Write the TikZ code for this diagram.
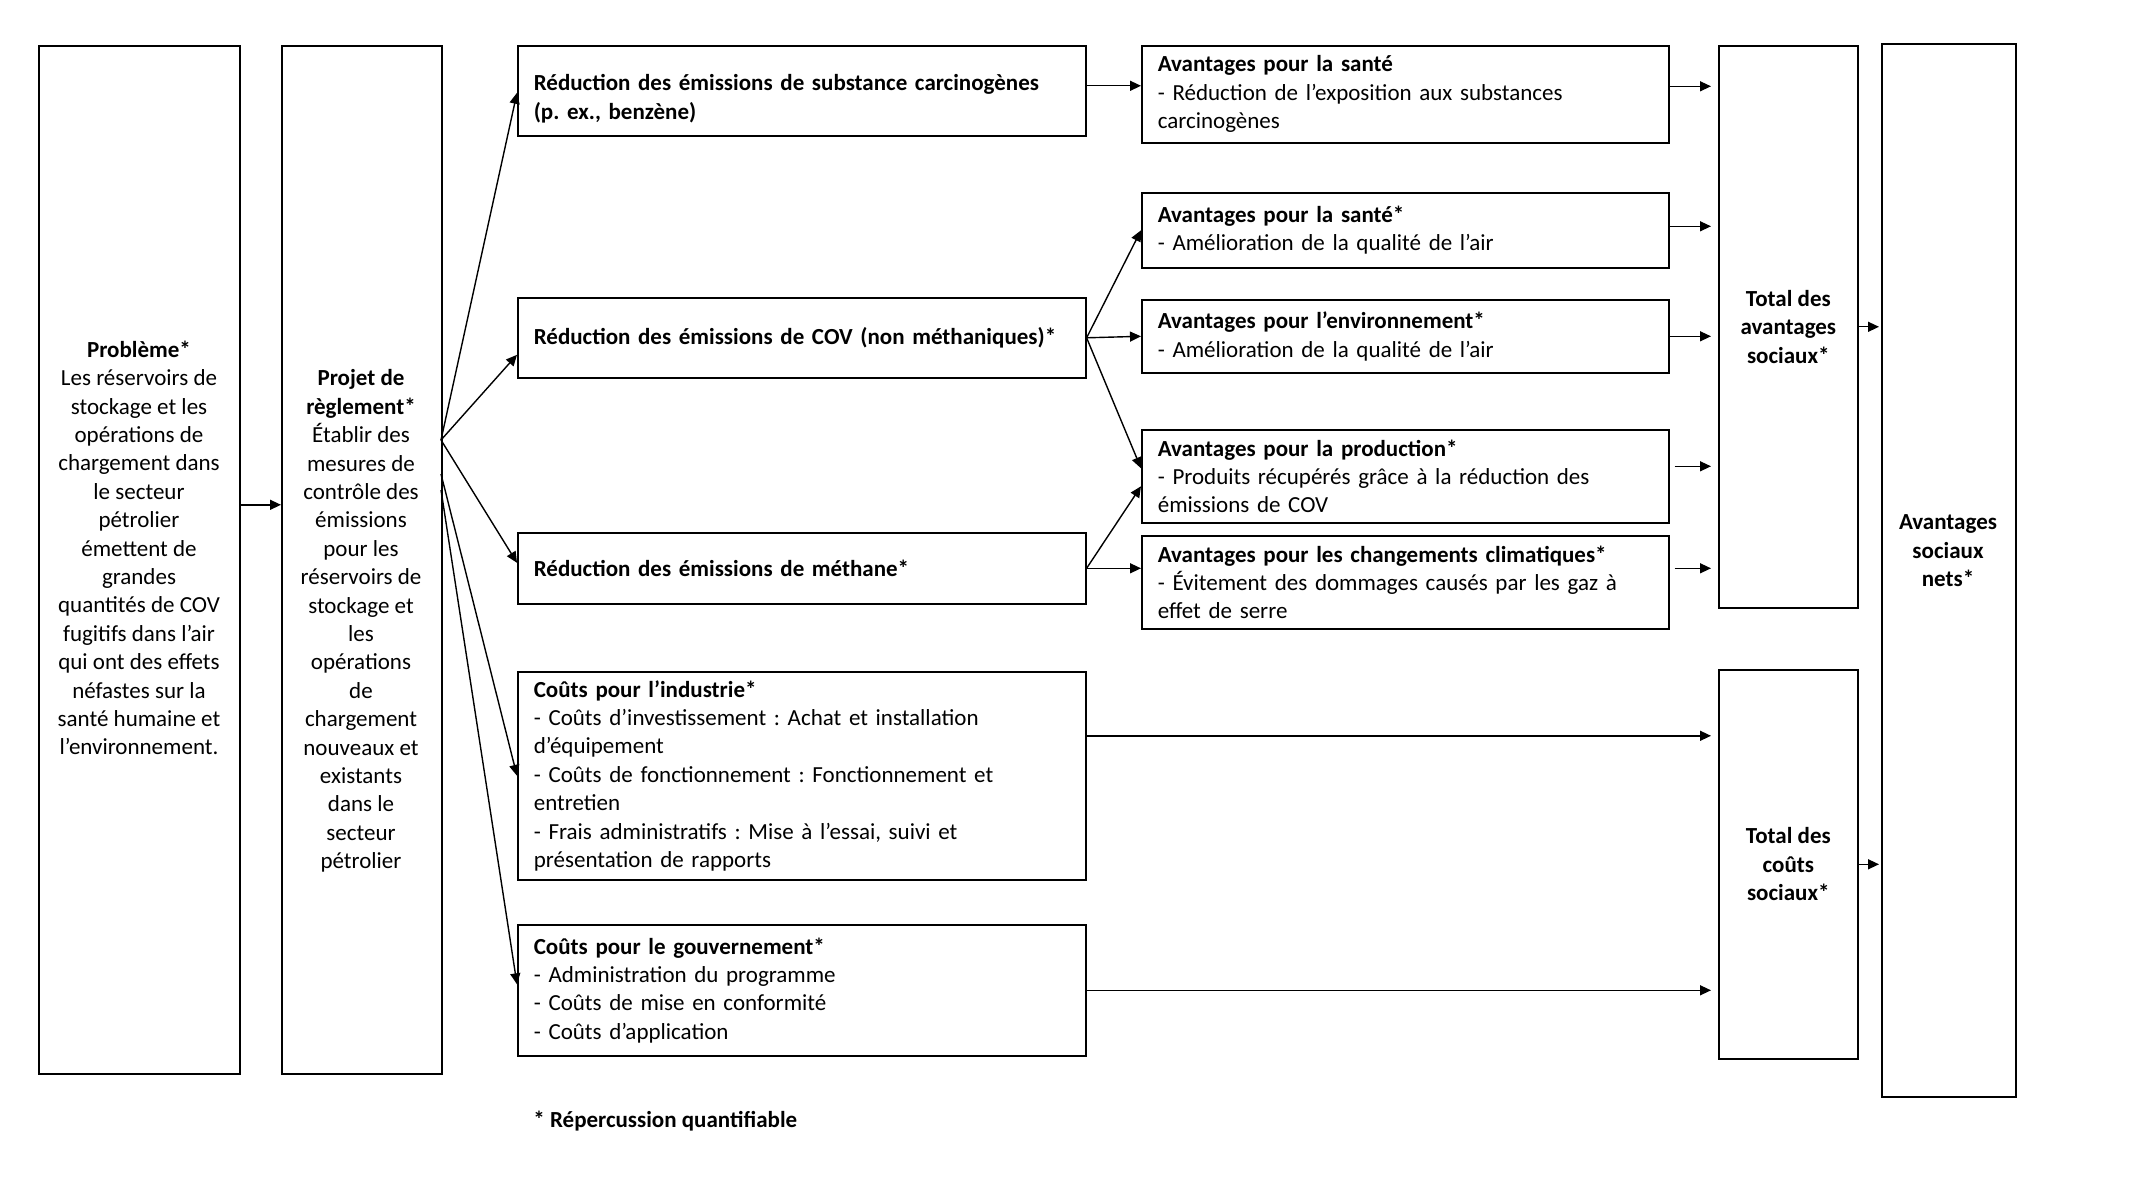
\documentclass[tikz,border=0pt]{standalone}
\usepackage{fontspec}
\setmainfont{Carlito}
\usetikzlibrary{arrows.meta,calc,positioning}
\frenchspacing

\tikzset{
  box/.style={draw, line width=0.8pt, anchor=north west, inner sep=0pt},
  lbox/.style={box, align=left, inner xsep=8pt, text width=#1},
  cbox/.style={box, align=center},
  txt/.style={align=center, inner sep=0pt},
  arr/.style={line width=0.7pt, -{Triangle[length=5.5pt,width=5pt]}},
}

\begin{document}
\begin{tikzpicture}[x=0.5pt, y=-0.5pt, font=\fontsize{11.5}{14.2}\selectfont]
\useasboundingbox (0,0) rectangle (2150,1203);

% left column
\node[box, minimum width=100.5pt, minimum height=514pt] (prob) at (38,45) {};
\node[txt] (probtxt) at (139,548) {\textbf{Problème*}\\Les réservoirs de\\stockage et les\\opérations de\\chargement dans\\le secteur\\pétrolier\\émettent de\\grandes\\quantités de COV\\fugitifs dans l’air\\qui ont des effets\\néfastes sur la\\santé humaine et\\l’environnement.};
\node[box, minimum width=80pt, minimum height=514pt] (projet) at (281,45) {};
\node[txt] (projettxt) at (361,621) {\textbf{Projet de}\\\textbf{règlement*}\\Établir des\\mesures de\\contrôle des\\émissions\\pour les\\réservoirs de\\stockage et\\les\\opérations\\de\\chargement\\nouveaux et\\existants\\dans le\\secteur\\pétrolier};

% reductions and costs
\node[lbox=268pt, minimum height=45pt] (red1) at (517,45) {\rule{0pt}{16pt}\textbf{Réduction des émissions de substance carcinogènes}\\\textbf{(p. ex., benzène)}};
\node[lbox=268pt, minimum height=40pt] (red2) at (517,297) {\textbf{Réduction des émissions de COV (non méthaniques)*}};
\node[lbox=268pt, minimum height=35.5pt] (red3) at (517,532) {\textbf{Réduction des émissions de méthane*}};
\node[lbox=268pt, minimum height=104pt] (ind) at (517,671) {\textbf{Coûts pour l’industrie*}\\- Coûts d’investissement : Achat et installation\\d’équipement\\- Coûts de fonctionnement : Fonctionnement et\\entretien\\- Frais administratifs : Mise à l’essai, suivi et\\présentation de rapports};
\node[lbox=268pt, minimum height=65.5pt] (gov) at (517,924) {\textbf{Coûts pour le gouvernement*}\\- Administration du programme\\- Coûts de mise en conformité\\- Coûts d’application};

% benefits
\node[lbox=247.5pt, minimum height=48.5pt] (av1) at (1141,45) {\textbf{Avantages pour la santé}\\- Réduction de l’exposition aux substances\\carcinogènes};
\node[lbox=247.5pt, minimum height=37.5pt] (av2) at (1141,192) {\textbf{Avantages pour la santé*}\\- Amélioration de la qualité de l’air};
\node[lbox=247.5pt, minimum height=36.5pt] (av3) at (1141,299) {\textbf{Avantages pour l’environnement*}\\- Amélioration de la qualité de l’air};
\node[lbox=247.5pt, minimum height=46.5pt] (av4) at (1141,429) {\textbf{Avantages pour la production*}\\- Produits récupérés grâce à la réduction des\\émissions de COV};
\node[lbox=247.5pt, minimum height=46.5pt] (av5) at (1141,535) {\textbf{Avantages pour les changements climatiques*}\\- Évitement des dommages causés par les gaz à\\effet de serre};

% totals
\node[cbox, minimum width=69.5pt, minimum height=281pt] (totav) at (1718,45) {\textbf{Total des}\\\textbf{avantages}\\\textbf{sociaux*}};
\node[cbox, minimum width=69.5pt, minimum height=194.5pt] (totcout) at (1718,669) {\textbf{Total des}\\\textbf{coûts}\\\textbf{sociaux*}};
\node[box, minimum width=67pt, minimum height=526.5pt] (nets) at (1881,43) {};
\node[txt] (netstxt) at (1948,551) {\textbf{Avantages}\\\textbf{sociaux}\\\textbf{nets*}};

\node[anchor=west, inner sep=0pt] (note) at (533,1121) {\textbf{* Répercussion quantifiable}};

% arrows
\coordinate (fan) at (441,440);
\coordinate (fanind) at (441,474);
\coordinate (fangov) at (441,490);
\draw[arr] ([yshift=27.5pt]prob.east) -- ([yshift=27.5pt]projet.west);
\draw[arr] (fan) -- ([yshift=-1pt]red1.west);
\draw[arr] (fan) -- ([yshift=-8.5pt]red2.west);
\draw[arr] (fan) -- ([yshift=2.75pt]red3.west);
\draw[arr] (fanind) -- (ind.west);
\draw[arr] (fangov) -- ([yshift=3pt]gov.west);

\draw[arr] ([yshift=2.5pt]red1.east) -- ([yshift=2.5pt]red1.east -| av1.west);
\draw[arr] (red2.east) -- (av2.west);
\draw[arr] (red2.east) -- (av3.west);
\draw[arr] (red2.east) -- ([yshift=4pt]av4.west);
\draw[arr] (red3.east) -- ([yshift=-5pt]av4.west);
\draw[arr] (red3.east) -- (red3.east -| av5.west);

\draw[arr, shorten >=3.5pt] ([yshift=4pt]av1.east) -- ([yshift=4pt]av1.east -| totav.west);
\draw[arr, shorten >=3.5pt] ([yshift=2pt]av2.east) -- ([yshift=2pt]av2.east -| totav.west);
\draw[arr, shorten >=3.5pt] (av3.east) -- (av3.east -| totav.west);
\draw[arr, shorten >=3.5pt, shorten <=2.5pt] ([yshift=5pt]av4.east) -- ([yshift=5pt]av4.east -| totav.west);
\draw[arr, shorten >=3.5pt, shorten <=2.5pt] ([yshift=7pt]av5.east) -- ([yshift=7pt]av5.east -| totav.west);

\draw[arr, shorten >=3.5pt] ([yshift=20pt]ind.east) -- ([yshift=20pt]ind.east -| totcout.west);
\draw[arr, shorten >=3.5pt] (gov.east) -- (gov.east -| totcout.west);
\draw[arr, shorten >=1pt] (totav.east) -- (totav.east -| nets.west);
\draw[arr, shorten >=1pt] (totcout.east) -- (totcout.east -| nets.west);
\end{tikzpicture}
\end{document}
